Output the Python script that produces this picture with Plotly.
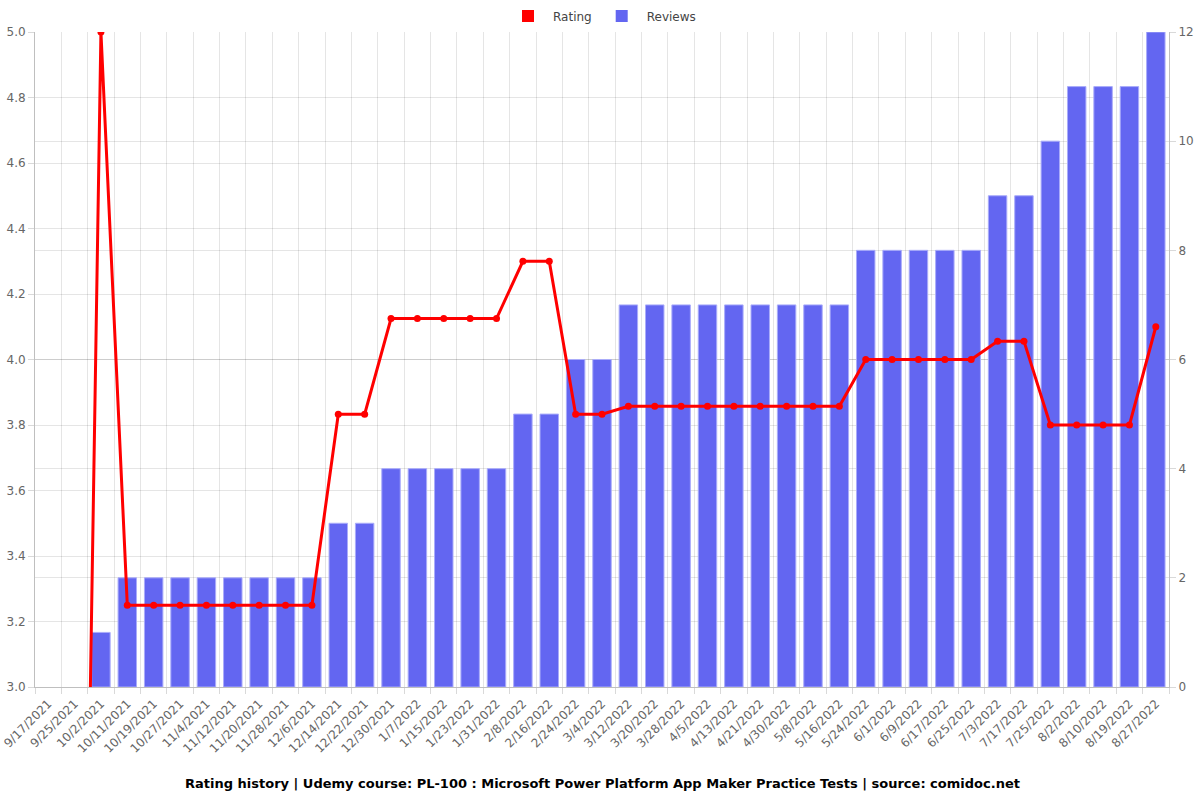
import plotly.graph_objects as go

dates = ["9/17/2021", "9/25/2021", "10/2/2021", "10/11/2021", "10/19/2021", "10/27/2021",
         "11/4/2021", "11/12/2021", "11/20/2021", "11/28/2021", "12/6/2021", "12/14/2021",
         "12/22/2021", "12/30/2021", "1/7/2022", "1/15/2022", "1/23/2022", "1/31/2022",
         "2/8/2022", "2/16/2022", "2/24/2022", "3/4/2022", "3/12/2022", "3/20/2022",
         "3/28/2022", "4/5/2022", "4/13/2022", "4/21/2022", "4/30/2022", "5/8/2022",
         "5/16/2022", "5/24/2022", "6/1/2022", "6/9/2022", "6/17/2022", "6/25/2022",
         "7/3/2022", "7/17/2022", "7/25/2022", "8/2/2022", "8/10/2022", "8/19/2022",
         "8/27/2022"]

reviews = [0, 0, 1, 2, 2, 2, 2, 2, 2, 2, 2, 3, 3, 4, 4, 4, 4, 4, 5, 5, 6, 6,
           7, 7, 7, 7, 7, 7, 7, 7, 7, 8, 8, 8, 8, 8, 9, 9, 10, 11, 11, 11, 12]

rating = [0, 0, 5.0, 3.25, 3.25, 3.25, 3.25, 3.25, 3.25, 3.25, 3.25, 3.833, 3.833,
          4.125, 4.125, 4.125, 4.125, 4.125, 4.3, 4.3, 3.833, 3.833,
          3.857, 3.857, 3.857, 3.857, 3.857, 3.857, 3.857, 3.857, 3.857,
          4.0, 4.0, 4.0, 4.0, 4.0, 4.056, 4.056, 3.8, 3.8, 3.8, 3.8, 4.1]

title_text = "Rating history | Udemy course: PL-100 : Microsoft Power Platform App Maker Practice Tests | source: comidoc.net"

RED = "rgb(255,0,0)"
BLUE = "rgb(99,102,241)"
FONT = "DejaVu Sans"
TICK = "#666666"
GRID = "rgba(0,0,0,0.1)"

bar_line_w = [0 if v == 0 else 1 for v in reviews]

fig = go.Figure()

# Legend entry for Rating drawn as a box (Chart.js style); zero-height, invisible in plot
fig.add_trace(go.Bar(x=[dates[0]], y=[0], name="Rating", yaxis="y",
                     marker=dict(color=RED, line=dict(color="rgba(255,120,120,1)", width=0)),
                     showlegend=True, hoverinfo="skip"))
fig.add_trace(go.Bar(x=dates, y=reviews, name="Reviews", yaxis="y",
                     marker=dict(color=BLUE, line=dict(color="rgba(170,172,250,1)", width=bar_line_w)),
                     showlegend=True, hoverinfo="x+y"))

fig.add_trace(go.Scatter(x=dates, y=rating, name="Rating", yaxis="y2",
                         mode="lines+markers",
                         line=dict(color=RED, width=3),
                         marker=dict(color=RED, size=7),
                         showlegend=False, cliponaxis=True))

fig.update_layout(
    width=1200, height=800,
    margin=dict(l=35, r=31, t=32, b=113, autoexpand=False),
    paper_bgcolor="white", plot_bgcolor="white",
    font=dict(family=FONT, size=12, color=TICK),
    bargap=0.3,
    barmode="overlay",
    legend=dict(orientation="h", x=0.5, xanchor="center", y=1.0244, yanchor="middle",
                font=dict(family=FONT, size=12, color="#444444"),
                traceorder="normal", itemwidth=40),
    xaxis=dict(type="category", categoryorder="array", categoryarray=dates,
               range=[-0.5, len(dates) - 0.5], automargin=False,
               tickangle=-45, tickson="boundaries", ticks="outside", ticklen=6,
               tickcolor="rgba(0,0,0,0.15)", ticklabelstandoff=4,
               showgrid=True, gridcolor=GRID, gridwidth=1,
               showline=True, linecolor="rgba(0,0,0,0.25)", linewidth=1,
               tickfont=dict(family=FONT, size=12, color=TICK), zeroline=False),
    yaxis=dict(side="right", range=[0, 12], tickvals=[0, 2, 4, 6, 8, 10, 12],
               automargin=False,
               ticks="outside", ticklen=6, tickcolor="rgba(0,0,0,0.15)",
               showgrid=True, gridcolor=GRID, gridwidth=1,
               showline=True, linecolor="rgba(0,0,0,0.25)", linewidth=1,
               zeroline=False, tickfont=dict(family=FONT, size=12, color=TICK)),
    yaxis2=dict(side="left", overlaying="y", range=[3, 5], automargin=False,
                tickvals=[3.0, 3.2, 3.4, 3.6, 3.8, 4.0, 4.2, 4.4, 4.6, 4.8, 5.0],
                tickformat=".1f",
                ticks="outside", ticklen=6, tickcolor="rgba(0,0,0,0.15)",
                showgrid=True, gridcolor=GRID, gridwidth=1,
                showline=True, linecolor="rgba(0,0,0,0.25)", linewidth=1,
                zeroline=False, tickfont=dict(family=FONT, size=12, color=TICK)),
    annotations=[dict(text="<b>" + title_text + "</b>", xref="paper", yref="paper",
                      x=0.5, y=-0.147, xanchor="center", yanchor="middle",
                      showarrow=False, font=dict(family=FONT, size=13, color="#000000"))],
)

fig.write_html("out.html")
